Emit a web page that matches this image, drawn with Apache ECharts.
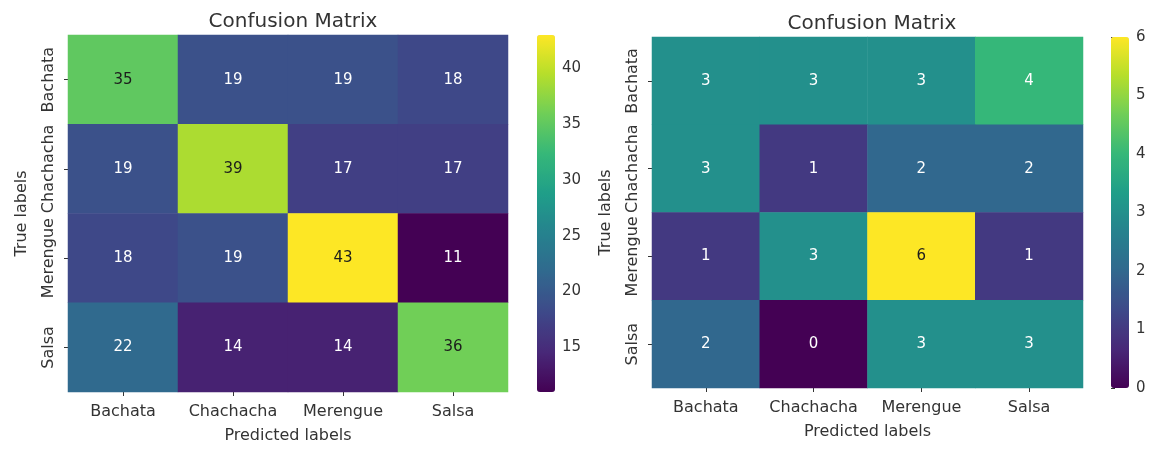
<!DOCTYPE html>
<html>
<head>
<meta charset="utf-8">
<title>Confusion Matrix</title>
<script src="https://cdn.jsdelivr.net/npm/echarts@6/dist/echarts.min.js"></script>
<style>
  html, body { margin: 0; padding: 0; background: #ffffff; }
  #chart { width: 1155px; height: 449px; }
</style>
</head>
<body>
<div id="chart"></div>
<script>
// Class labels (same for predicted and true)
const classes = ['Bachata', 'Chachacha', 'Merengue', 'Salsa'];

// Left matrix: rows = true label, columns = predicted label
const leftRows = [
  [35, 19, 19, 18],
  [19, 39, 17, 17],
  [18, 19, 43, 11],
  [22, 14, 14, 36]
];
// Right matrix
const rightRows = [
  [3, 3, 3, 4],
  [3, 1, 2, 2],
  [1, 3, 6, 1],
  [2, 0, 3, 3]
];

// Colour bar tick values
const leftBarTicks = [15, 20, 25, 30, 35, 40];
const rightBarTicks = [0, 1, 2, 3, 4, 5, 6];

const titleText = 'Confusion Matrix';
const xName = 'Predicted labels';
const yName = 'True labels';

// viridis colour ramp
const viridis = ['#440154', '#482878', '#3e4989', '#31688e', '#26828e',
                 '#1f9e89', '#35b779', '#6ece58', '#b5de2b', '#fde725'];

function hexToRgb(h) {
  return [parseInt(h.slice(1, 3), 16), parseInt(h.slice(3, 5), 16), parseInt(h.slice(5, 7), 16)];
}
function rampColor(t) {
  t = Math.max(0, Math.min(1, t));
  const p = t * (viridis.length - 1);
  const i = Math.min(Math.floor(p), viridis.length - 2);
  const f = p - i;
  const a = hexToRgb(viridis[i]), b = hexToRgb(viridis[i + 1]);
  return a.map((v, k) => v + (b[k] - v) * f);
}
function luminance(rgb) {
  const c = rgb.map(v => {
    v /= 255;
    return v <= 0.03928 ? v / 12.92 : Math.pow((v + 0.055) / 1.055, 2.4);
  });
  return 0.2126 * c[0] + 0.7152 * c[1] + 0.0722 * c[2];
}

// heatmap items, with the annotation colour picked from the cell's brightness
function cells(rows, vmin, vmax) {
  const out = [];
  rows.forEach((row, y) => row.forEach((v, x) => {
    const lum = luminance(rampColor((v - vmin) / (vmax - vmin)));
    out.push({ value: [x, y, v], label: { color: lum > 0.408 ? '#1c1c1c' : '#ffffff' } });
  }));
  return out;
}

const flat = a => a.reduce((s, r) => s.concat(r), []);
const lMin = Math.min(...flat(leftRows)), lMax = Math.max(...flat(leftRows));
const rMin = Math.min(...flat(rightRows)), rMax = Math.max(...flat(rightRows));

const FONT = 'DejaVu Sans';
const TXT = '#333333';

// layout of the two panels
const panels = [
  { left: 68, top: 35, width: 440, height: 357, bar: { left: 537, width: 18 } },
  { left: 652, top: 37, width: 431, height: 351, bar: { left: 1111, width: 18 } }
];

const chart = echarts.init(document.getElementById('chart'), null, { renderer: 'canvas' });

const grid = [];
const xAxis = [];
const yAxis = [];
panels.forEach(p => {
  grid.push({ left: p.left, top: p.top, width: p.width, height: p.height, containLabel: false });
});
panels.forEach(p => {
  grid.push({ left: p.bar.left, top: p.top, width: p.bar.width, height: p.height, containLabel: false });
});

// heatmap axes
[0, 1].forEach(i => {
  xAxis.push({
    type: 'category', gridIndex: i, data: classes, position: 'bottom',
    axisLine: { show: false },
    axisTick: { show: true, alignWithLabel: true, interval: 0, length: 4, lineStyle: { color: TXT } },
    axisLabel: { color: TXT, fontFamily: FONT, fontSize: 16, margin: 12, interval: 0, hideOverlap: false },
    splitLine: { show: false }, splitArea: { show: false },
    name: xName, nameLocation: 'middle', nameGap: 36,
    nameTextStyle: { color: TXT, fontFamily: FONT, fontSize: 16 }
  });
  yAxis.push({
    type: 'category', gridIndex: i, data: classes, inverse: true,
    axisLine: { show: false },
    axisTick: { show: true, alignWithLabel: true, interval: 0, length: 4, lineStyle: { color: TXT } },
    axisLabel: { color: TXT, fontFamily: FONT, fontSize: 16, margin: 11, rotate: 90, interval: 0,
                 hideOverlap: false, align: 'center', verticalAlign: 'bottom' },
    splitLine: { show: false }, splitArea: { show: false },
    name: yName, nameLocation: 'middle', nameGap: 38,
    nameTextStyle: { color: TXT, fontFamily: FONT, fontSize: 16 }
  });
});

// colour bar axes
const bars = [
  { min: lMin, max: lMax, ticks: leftBarTicks },
  { min: rMin, max: rMax, ticks: rightBarTicks }
];
bars.forEach((b, k) => {
  xAxis.push({ type: 'value', gridIndex: 2 + k, show: false, min: 0, max: 1 });
  yAxis.push({
    type: 'value', gridIndex: 2 + k, position: 'right', min: b.min, max: b.max,
    axisLine: { show: false },
    splitLine: { show: false },
    axisTick: { show: true, length: 4, customValues: b.ticks, lineStyle: { color: TXT } },
    axisLabel: { show: true, customValues: b.ticks, color: TXT, fontFamily: FONT, fontSize: 15, margin: 7 }
  });
});

const option = {
  backgroundColor: '#ffffff',
  animation: false,
  title: [
    { text: titleText, left: 288, top: 7, textAlign: 'center',
      textStyle: { color: TXT, fontFamily: FONT, fontSize: 20, fontWeight: 'normal' } },
    { text: titleText, left: 867, top: 9, textAlign: 'center',
      textStyle: { color: TXT, fontFamily: FONT, fontSize: 20, fontWeight: 'normal' } }
  ],
  grid: grid,
  xAxis: xAxis,
  yAxis: yAxis,
  visualMap: [
    { type: 'continuous', seriesIndex: 0, min: lMin, max: lMax, calculable: false,
      orient: 'vertical', left: panels[0].bar.left, top: panels[0].top,
      itemWidth: panels[0].bar.width, itemHeight: panels[0].height,
      padding: 0, text: null, showLabel: false, hoverLink: false,
      inRange: { color: viridis } },
    { type: 'continuous', seriesIndex: 1, min: rMin, max: rMax, calculable: false,
      orient: 'vertical', left: panels[1].bar.left, top: panels[1].top,
      itemWidth: panels[1].bar.width, itemHeight: panels[1].height,
      padding: 0, text: null, showLabel: false, hoverLink: false,
      inRange: { color: viridis } }
  ],
  series: [
    { type: 'heatmap', xAxisIndex: 0, yAxisIndex: 0, data: cells(leftRows, lMin, lMax),
      label: { show: true, fontFamily: FONT, fontSize: 15 },
      itemStyle: { borderWidth: 0 }, emphasis: { disabled: true } },
    { type: 'heatmap', xAxisIndex: 1, yAxisIndex: 1, data: cells(rightRows, rMin, rMax),
      label: { show: true, fontFamily: FONT, fontSize: 15 },
      itemStyle: { borderWidth: 0 }, emphasis: { disabled: true } }
  ]
};

chart.setOption(option);
</script>
</body>
</html>
